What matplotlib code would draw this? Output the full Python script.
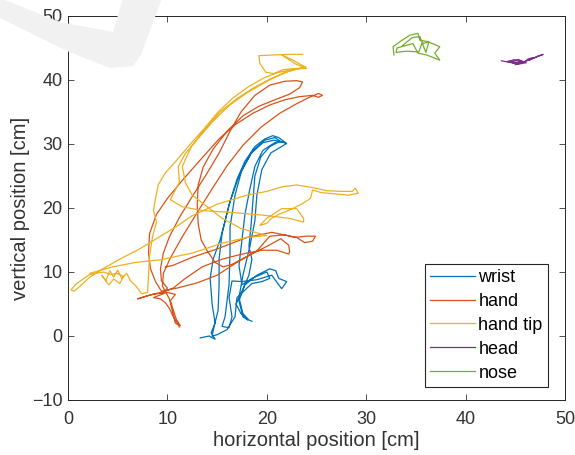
import numpy as np
import matplotlib.pyplot as plt
from matplotlib.patches import Polygon

plt.rcParams['font.family'] = ['Liberation Sans', 'DejaVu Sans']

# trajectories, (horizontal cm, vertical cm)
wrist = [
    (13.3, -0.3), (14.2, 0.0), (14.8, -0.5), (14.4, 0.5), (14.8, 2.0), (14.5, 5.0), (14.3, 9.0),
    (14.6, 12.0), (15.3, 15.0), (15.8, 18.0), (16.3, 21.0), (17.0, 24.5), (17.8, 27.3), (18.8, 29.6),
    (19.8, 30.8), (20.6, 31.3), (21.2, 31.0), (21.9, 30.2), (21.3, 30.4), (20.3, 29.6), (19.4, 28.0),
    (18.8, 25.0), (18.6, 21.0), (18.4, 17.0), (18.2, 14.0), (18.5, 12.0), (18.2, 9.5), (17.5, 7.0),
    (16.9, 5.0), (17.4, 3.5), (18.1, 2.5), (17.6, 3.0), (17.2, 5.5), (17.8, 8.0), (19.0, 9.5),
    (20.3, 10.5), (20.9, 10.2), (21.2, 9.0), (22.0, 8.5), (21.5, 7.4), (21.2, 8.0), (20.5, 9.5),
    (19.0, 8.8), (17.5, 8.5), (16.5, 8.6), (16.2, 6.0), (16.5, 3.0), (16.2, 1.3), (15.5, 1.5),
    (15.8, 3.0), (16.2, 8.0), (16.3, 13.0), (16.3, 17.0), (16.8, 22.0), (17.5, 26.0), (18.6, 29.0),
    (19.8, 30.6), (20.8, 31.0), (21.4, 30.4), (20.8, 30.2), (19.6, 29.0), (18.8, 26.5), (18.3, 23.0),
    (17.8, 19.0), (17.5, 15.0), (17.2, 11.0), (17.5, 8.0), (18.5, 9.0), (20.0, 10.0), (20.3, 9.0),
    (19.5, 8.5), (18.5, 8.2), (17.0, 6.0), (16.8, 3.0), (16.0, 1.0), (15.0, 0.2), (14.5, 0.0),
    (14.7, 1.5), (15.1, 4.0), (15.2, 8.0), (15.2, 12.0), (15.5, 16.0), (16.2, 20.5), (17.2, 25.0),
    (18.4, 28.5), (19.6, 30.2), (20.7, 30.6), (21.5, 30.3), (22.0, 30.1), (21.7, 29.8), (20.4, 28.6),
    (19.5, 26.0), (19.0, 22.0), (18.8, 18.0), (18.3, 14.0), (17.6, 9.5), (17.2, 6.0), (17.6, 3.5),
    (18.2, 2.5), (18.5, 2.3),
]

hand = [
    (11.2, 1.4), (11.0, 2.0), (10.6, 3.0), (10.2, 4.3), (9.8, 5.2), (9.3, 5.8), (8.6, 6.0), (9.6, 6.6),
    (10.0, 7.5), (9.4, 8.6), (9.3, 10.5), (9.6, 13.0), (10.2, 15.5), (11.2, 18.5), (12.5, 21.8),
    (13.9, 25.2), (15.2, 28.6), (16.3, 32.0), (17.4, 35.0), (18.8, 37.6), (20.3, 39.2), (21.8, 39.8),
    (23.0, 39.9), (23.6, 39.7), (23.3, 38.8), (22.3, 37.8), (20.8, 36.9), (19.2, 35.9), (17.6, 34.4),
    (16.0, 32.0), (14.6, 29.2), (13.6, 26.4), (13.1, 23.6), (13.0, 20.5), (13.1, 17.5), (13.4, 15.0),
    (14.0, 13.3), (14.8, 11.5), (15.6, 10.8), (16.5, 11.2), (18.2, 12.6), (20.0, 14.0), (21.4, 15.2),
    (22.2, 14.2), (22.3, 13.2), (22.2, 12.8), (21.0, 13.4), (19.5, 13.4), (17.5, 12.8), (15.5, 12.0),
    (13.5, 10.8), (11.8, 9.0), (10.6, 7.5), (9.8, 7.0), (8.0, 6.3), (7.0, 5.8), (8.5, 6.5), (10.0, 6.8),
    (10.8, 6.5), (10.3, 5.5), (10.6, 4.0), (10.9, 2.6), (11.3, 1.6), (10.8, 2.0), (10.2, 5.8),
    (9.5, 7.8), (9.6, 9.8), (10.3, 12.2), (11.5, 15.5), (13.0, 19.3), (14.5, 23.0), (16.0, 26.6),
    (17.6, 29.8), (19.4, 32.6), (21.3, 34.8), (23.0, 36.3), (24.3, 37.3), (25.2, 37.9), (25.6, 37.6),
    (25.2, 37.3), (24.6, 37.6), (23.3, 37.4), (21.8, 36.9), (20.3, 36.1), (18.6, 34.8), (16.9, 33.1),
    (15.2, 30.8), (13.3, 27.5), (11.6, 24.5), (10.0, 21.5), (8.9, 19.0), (8.2, 16.0), (8.1, 13.0),
    (8.3, 10.5), (8.8, 8.5), (9.4, 7.0), (11.0, 7.5), (13.0, 8.3), (15.0, 9.5), (17.0, 11.5),
    (19.0, 13.3), (20.3, 15.6), (21.8, 15.8), (22.8, 15.4), (24.0, 15.6), (24.9, 15.6), (24.6, 14.8),
    (23.8, 14.6), (23.0, 15.4), (20.5, 16.2), (18.0, 15.4), (15.0, 13.6), (12.5, 12.3), (10.5, 11.0),
    (9.8, 10.8),
]

hand_tip = [
    (23.6, 44.0), (22.0, 44.0), (20.5, 43.9), (19.2, 43.8), (19.3, 42.6), (19.9, 41.2), (20.7, 41.0),
    (21.6, 41.6), (22.8, 41.8), (24.0, 41.8), (22.9, 42.5), (21.5, 43.9), (22.5, 43.2), (23.9, 42.0),
    (22.6, 41.6), (21.2, 41.2), (19.8, 40.4), (18.2, 39.0), (16.6, 37.2), (15.1, 35.0), (13.7, 32.4),
    (12.2, 29.8), (10.9, 27.4), (9.8, 25.5), (9.1, 23.7), (8.8, 21.5), (8.6, 19.6), (8.9, 17.8),
    (8.5, 15.5), (8.2, 12.5), (8.1, 9.5), (8.0, 6.8), (7.4, 6.6), (6.9, 7.7), (6.3, 8.6), (5.9, 9.8),
    (5.4, 9.0), (5.0, 10.3), (4.6, 9.2), (4.2, 10.2), (3.8, 8.6), (3.4, 9.5), (4.1, 8.0), (4.6, 8.9),
    (5.2, 8.2), (5.6, 9.3), (4.9, 9.8), (4.3, 9.6), (3.6, 10.0), (2.8, 9.8), (2.2, 9.6), (1.5, 8.9),
    (0.8, 8.1), (0.3, 7.2), (0.6, 7.0), (1.3, 7.9), (2.2, 9.2), (3.5, 10.5), (5.2, 12.0), (7.2, 13.6),
    (9.0, 15.3), (10.8, 17.0), (12.5, 18.8), (15.0, 20.6), (18.0, 22.0), (20.0, 22.6), (21.5, 23.3),
    (23.0, 23.6), (24.6, 23.2), (26.0, 22.7), (27.5, 22.6), (28.6, 22.6), (28.9, 23.1), (29.2, 22.3),
    (28.2, 22.0), (27.6, 22.1), (25.5, 22.4), (24.6, 22.8), (24.4, 21.5), (23.5, 20.6), (22.3, 19.7),
    (21.2, 19.0), (20.4, 18.3), (20.0, 17.6), (19.3, 17.3), (20.0, 18.4), (21.5, 19.9), (23.0, 19.9),
    (23.7, 18.4), (23.7, 17.8), (22.2, 18.4), (19.5, 18.9), (16.5, 19.3), (13.5, 19.6), (11.5, 20.2),
    (10.3, 21.3), (11.2, 24.0), (11.1, 26.5), (11.8, 28.5), (13.0, 30.7), (14.5, 33.4), (16.2, 36.0),
    (18.0, 38.0), (20.0, 39.8), (21.8, 41.2), (23.9, 42.0), (22.6, 41.6), (20.4, 40.2), (18.7, 38.8),
    (17.0, 37.1), (15.3, 35.0), (13.7, 32.2), (12.4, 29.6), (11.5, 26.5), (11.8, 24.0), (12.5, 22.0),
    (14.0, 20.2), (15.5, 18.4), (17.4, 16.8), (20.0, 15.7), (18.0, 15.4), (15.5, 14.5), (12.6, 13.0),
    (9.3, 11.9), (6.8, 11.5), (4.5, 10.8), (2.2, 9.8),
]

head = [
    (43.6, 43.0), (44.3, 42.8), (45.0, 42.6), (45.6, 42.9), (44.8, 43.1), (44.2, 42.9), (45.2, 42.5),
    (45.9, 42.8), (46.3, 43.3), (46.8, 43.5), (46.4, 43.1), (47.2, 43.7), (47.8, 44.0), (47.0, 43.5),
    (46.0, 42.9), (45.2, 42.7), (44.5, 43.0), (45.3, 43.2), (46.1, 42.7), (45.0, 42.4),
]

nose = [
    (32.8, 43.9), (32.7, 45.2), (33.5, 46.1), (34.4, 47.0), (35.2, 47.3), (35.4, 46.2), (36.2, 46.0),
    (37.4, 45.2), (36.9, 44.2), (37.4, 43.1), (36.1, 43.9), (35.2, 44.2), (34.7, 45.7), (33.1, 45.0),
    (33.0, 44.3), (34.0, 44.5), (35.3, 44.4), (35.6, 45.7), (36.3, 45.9), (36.0, 44.3), (35.4, 46.8),
    (34.6, 46.6), (33.6, 45.3),
]

labels = ['wrist', 'hand', 'hand tip', 'head', 'nose']
colors = ['#0072BD', '#D95319', '#EDB120', '#7E2F8E', '#77AC30']

fig = plt.figure(figsize=(5.75, 4.55), dpi=100)
ax = fig.add_axes([68 / 575, 1 - 400 / 455, 497 / 575, 384 / 455])
ax.patch.set_alpha(0)

# faint grey watermark behind the axes (pixel coords of the picture)
wm = [(0, -2), (60, 22), (113, 32), (123, -2), (162, -2), (141, 55), (133, 66), (110, 68), (67, 51), (0, 18)]
fig.patches.append(Polygon([(x / 575, 1 - y / 455) for x, y in wm], closed=True,
                           transform=fig.transFigure, facecolor='#f1f1f1', edgecolor='none', zorder=0))

for pts, lab, c in zip([wrist, hand, hand_tip, head, nose], labels, colors):
    xy = np.array(pts)
    ax.plot(xy[:, 0], xy[:, 1], color=c, lw=0.9, label=lab)

ax.set_xlim(0, 50)
ax.set_ylim(-10, 50)
ax.set_xticks(range(0, 51, 10))
ax.set_yticks(range(-10, 51, 10))
ax.tick_params(direction='in', top=True, right=True, length=4, width=0.6,
               labelsize=13, colors='#333333', pad=4)
ax.tick_params(axis='x', pad=8)
for s in ax.spines.values():
    s.set_color('#262626')
    s.set_linewidth(0.7)
ax.set_xlabel('horizontal position [cm]', fontsize=14.5, color='#333333', labelpad=2)
ax.set_ylabel('vertical position [cm]', fontsize=14.5, color='#333333', labelpad=1)

leg = ax.legend(loc='lower right', bbox_to_anchor=(0.966, 0.034), fontsize=13, fancybox=False,
                edgecolor='#262626', framealpha=1, handlelength=2.5, handletextpad=0.17,
                labelspacing=0.38, borderpad=0.3, borderaxespad=0)
leg.get_frame().set_linewidth(0.8)

fig.savefig('out.png', dpi=100)
